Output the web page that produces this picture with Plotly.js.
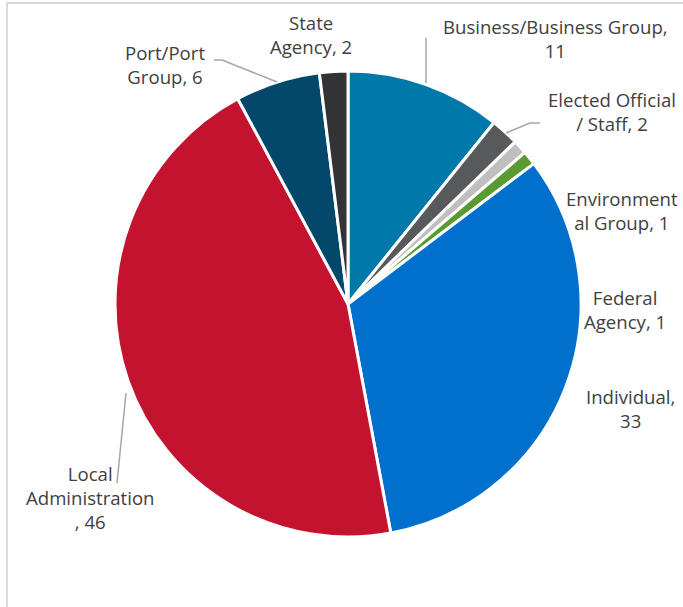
<!DOCTYPE html>
<html>
<head>
<meta charset="utf-8">
<script src="https://cdn.plot.ly/plotly-3.0.1.min.js"></script>
<style>html,body{margin:0;padding:0;background:#fff;}#chart{width:683px;height:607px;}</style>
</head>
<body>
<div id="chart"></div>
<script>
var categories = ["Business/Business Group", "Elected Official / Staff", "Environmental Group", "Federal Agency", "Individual", "Local Administration", "Port/Port Group", "State Agency"];
var values = [11, 2, 1, 1, 33, 46, 6, 2];
var colors = ["#0078AA", "#58595B", "#BFBFBF", "#5A9A32", "#0070CC", "#C3132F", "#03486A", "#333336"];
var labelTexts = ["Business/Business Group,<br>11", "Elected Official<br>/ Staff, 2", "Environment<br>al Group, 1", "Federal<br>Agency, 1", "Individual,<br>33", "Local<br>Administration<br>, 46", "Port/Port<br>Group, 6", "State<br>Agency, 2"];

var W = 683, H = 607;
function px(x){ return x / W; }
function py(y){ return 1 - y / H; }

// label centres (pixels) — layout only
var labelPos = [[555, 38], [612, 112], [622, 210], [625, 309], [630, 408], [90, 497], [165, 65], [311, 34]];

var annotations = labelTexts.map(function(t, i){
  return {
    text: t, xref: 'paper', yref: 'paper',
    x: px(labelPos[i][0]), y: py(labelPos[i][1]),
    xanchor: 'center', yanchor: 'middle', showarrow: false,
    font: {family: 'Open Sans, Liberation Sans, Arial, sans-serif', size: 18.6, color: '#404040'},
    align: 'center'
  };
});

function seg(x0, y0, x1, y1){
  return {type: 'line', xref: 'paper', yref: 'paper', x0: px(x0), y0: py(y0), x1: px(x1), y1: py(y1),
    line: {color: '#A6A6A6', width: 1.5}};
}
var shapes = [
  {type: 'rect', xref: 'paper', yref: 'paper', x0: px(7), y0: py(700), x1: px(800), y1: py(3),
   line: {color: '#D9D9D9', width: 2}, fillcolor: 'rgba(0,0,0,0)', layer: 'below'},
  seg(426, 83, 426, 38),
  seg(506, 133, 530, 123), seg(530, 123, 540, 123),
  seg(214, 60, 222, 60), seg(222, 60, 277, 82),
  seg(117, 483, 126, 393)
];

var trace = {
  type: 'pie',
  labels: categories,
  values: values,
  sort: false,
  direction: 'clockwise',
  rotation: 0,
  textinfo: 'none',
  hoverinfo: 'label+value',
  marker: {colors: colors, line: {color: '#FFFFFF', width: 3}},
  domain: {x: [px(115), px(581)], y: [py(537), py(71)]},
  showlegend: false
};

var layout = {
  width: W, height: H,
  margin: {l: 0, r: 0, t: 0, b: 0},
  paper_bgcolor: '#FFFFFF',
  showlegend: false,
  annotations: annotations,
  shapes: shapes
};

Plotly.newPlot('chart', [trace], layout, {displayModeBar: false, staticPlot: true});
</script>
</body>
</html>
